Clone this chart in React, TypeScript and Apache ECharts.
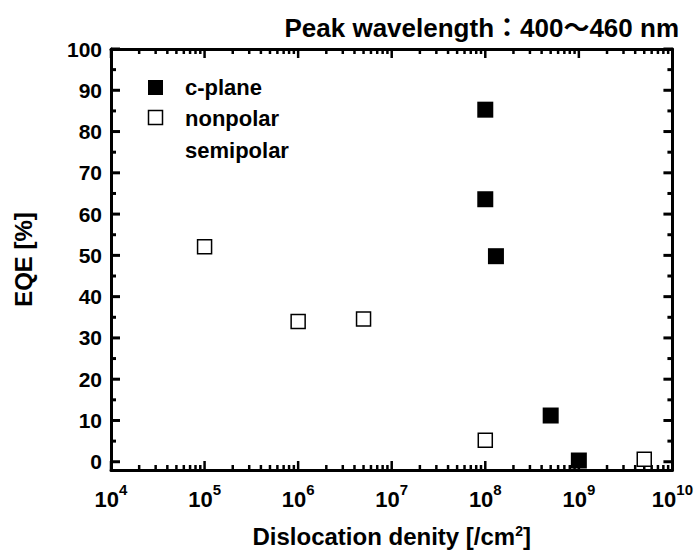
import React, { useEffect, useRef } from "react";
import * as echarts from "echarts";

// ---- data ----
const cPlaneX = [1e8, 1e8, 1.3e8, 5e8, 1e9];
const cPlaneY = [85.3, 63.6, 49.8, 11.2, 0.3];
const nonpolarX = [1e5, 1e6, 5e6, 1e8, 5e9];
const nonpolarY = [52.1, 34.0, 34.6, 5.2, 0.6];

const xExponents = [4, 5, 6, 7, 8, 9, 10];
const xMinorMultipliers = [2, 3, 4, 5, 6, 7, 8, 9];
const yTicks = [0, 10, 20, 30, 40, 50, 60, 70, 80, 90, 100];
const yMinorTicks = [5, 15, 25, 35, 45, 55, 65, 75, 85, 95];
const legendNames = ["c-plane", "nonpolar", "semipolar"];
const titleText = "Peak wavelength：400～460 nm";
const xAxisTitle = "Dislocation denity [/cm{s|2}]";
const yAxisTitle = "EQE [%]";

const X_MIN = 1e4;
const X_MAX = 1e10;
const Y_MIN = -2;
const Y_MAX = 100;

const FONT = "'Liberation Sans', Arial, Helvetica, sans-serif";

function tickSeries(data: number[][], size: number[], offset: number[]) {
  return {
    type: "scatter",
    silent: true,
    clip: false,
    symbol: "rect",
    symbolSize: size,
    symbolOffset: offset,
    itemStyle: { color: "#000", opacity: 1 },
    data,
    z: 6,
    tooltip: { show: false },
  };
}

export default function App() {
  const ref = useRef<HTMLDivElement>(null);

  useEffect(() => {
    if (!ref.current) return;
    const chart = echarts.init(ref.current, null, { renderer: "svg" });

    const xMinorVals: number[] = [];
    for (let i = 0; i < xExponents.length - 1; i++) {
      const base = Math.pow(10, xExponents[i]);
      xMinorMultipliers.forEach((m) => xMinorVals.push(m * base));
    }
    const xMajorVals = xExponents.map((e) => Math.pow(10, e));

    const axisLineStyle = { color: "#000", width: 3 };
    const WX = 2.5;
    const WY = 3;
    const MAJ = 9;
    const MIN = 5;

    const option: any = {
      animation: false,
      backgroundColor: "#fff",
      textStyle: { fontFamily: FONT },
      title: {
        text: titleText,
        right: 12,
        top: 10,
        textStyle: {
          fontFamily: "'Liberation Sans', 'Noto Sans CJK JP', sans-serif",
          fontSize: 26,
          fontWeight: "bold",
          color: "#000",
        },
      },
      grid: { left: 111, right: 19, top: 49, bottom: 86, containLabel: false },
      xAxis: [
        {
          type: "log",
          logBase: 10,
          min: X_MIN,
          max: X_MAX,
          position: "bottom",
          axisLine: { show: true, onZero: false, lineStyle: axisLineStyle },
          axisTick: { show: false },
          splitLine: { show: false },
          axisLabel: {
            margin: 12,
            formatter: (v: number) => `{b|10}{s|${Math.round(Math.log10(v))}}`,
            rich: {
              b: { fontSize: 22, fontWeight: "bold", color: "#000", fontFamily: FONT, verticalAlign: "bottom", lineHeight: 28 },
              s: { fontSize: 15, fontWeight: "bold", color: "#000", fontFamily: FONT, verticalAlign: "top", lineHeight: 14 },
            },
          },
          name: xAxisTitle,
          nameLocation: "middle",
          nameGap: 54,
          nameTextStyle: {
            fontSize: 24,
            fontWeight: "bold",
            color: "#000",
            fontFamily: FONT,
            rich: {
              s: { fontSize: 14, fontWeight: "bold", color: "#000", fontFamily: FONT, verticalAlign: "top", lineHeight: 14 },
            },
          },
        },
        {
          type: "log",
          logBase: 10,
          min: X_MIN,
          max: X_MAX,
          position: "top",
          axisLine: { show: true, onZero: false, lineStyle: axisLineStyle },
          axisTick: { show: false },
          axisLabel: { show: false },
          splitLine: { show: false },
        },
      ],
      yAxis: [
        {
          type: "value",
          min: Y_MIN,
          max: Y_MAX,
          position: "left",
          axisLine: { show: true, onZero: false, lineStyle: axisLineStyle },
          axisTick: { show: false },
          axisLabel: {
            customValues: yTicks,
            margin: 9,
            fontSize: 21,
            fontWeight: "bold",
            color: "#000",
            fontFamily: FONT,
          },
          splitLine: { show: false },
          name: yAxisTitle,
          nameLocation: "middle",
          nameGap: 76,
          nameTextStyle: { fontSize: 24, fontWeight: "bold", color: "#000", fontFamily: FONT },
        },
        {
          type: "value",
          min: Y_MIN,
          max: Y_MAX,
          position: "right",
          axisLine: { show: true, onZero: false, lineStyle: axisLineStyle },
          axisTick: { show: false },
          axisLabel: { show: false },
          splitLine: { show: false },
        },
      ],
      graphic: [
        { type: "rect", shape: { x: 148, y: 80, width: 15, height: 15 }, style: { fill: "#000" } },
        { type: "rect", shape: { x: 148.5, y: 110.5, width: 14, height: 14 }, style: { fill: "#fff", stroke: "#000", lineWidth: 1.5 } },
        { type: "text", x: 185, y: 87, style: { text: legendNames[0], font: `bold 22px ${FONT}`, fill: "#000", verticalAlign: "middle" } },
        { type: "text", x: 185, y: 118, style: { text: legendNames[1], font: `bold 22px ${FONT}`, fill: "#000", verticalAlign: "middle" } },
        { type: "text", x: 185, y: 150, style: { text: legendNames[2], font: `bold 22px ${FONT}`, fill: "#000", verticalAlign: "middle" } },
      ],
      series: [
        tickSeries(xMajorVals.map((v) => [v, Y_MIN]), [WX, MAJ], [0, -MAJ / 2]),
        tickSeries(xMinorVals.map((v) => [v, Y_MIN]), [WX, MIN], [0, -MIN / 2]),
        tickSeries(xMajorVals.map((v) => [v, Y_MAX]), [WX, MAJ], [0, MAJ / 2]),
        tickSeries(xMinorVals.map((v) => [v, Y_MAX]), [WX, MIN], [0, MIN / 2]),
        tickSeries(yTicks.map((v) => [X_MIN, v]), [MAJ, WY], [MAJ / 2, 0]),
        tickSeries(yMinorTicks.map((v) => [X_MIN, v]), [MIN, WY], [MIN / 2, 0]),
        tickSeries(yTicks.map((v) => [X_MAX, v]), [MAJ, WY], [-MAJ / 2, 0]),
        tickSeries(yMinorTicks.map((v) => [X_MAX, v]), [MIN, WY], [-MIN / 2, 0]),
        {
          name: legendNames[0],
          type: "scatter",
          symbol: "rect",
          symbolSize: 16,
          itemStyle: { color: "#000", opacity: 1 },
          data: cPlaneX.map((x, i) => [x, cPlaneY[i]]),
          z: 10,
        },
        {
          name: legendNames[1],
          type: "scatter",
          symbol: "rect",
          symbolSize: 14,
          itemStyle: { color: "#fff", borderColor: "#000", borderWidth: 1.5, opacity: 1 },
          data: nonpolarX.map((x, i) => [x, nonpolarY[i]]),
          z: 10,
        },
      ],
    };

    chart.setOption(option);
    return () => chart.dispose();
  }, []);

  return (
    <div
      ref={ref}
      style={{ position: "fixed", left: 0, top: 0, width: 696, height: 556, background: "#fff" }}
    />
  );
}
